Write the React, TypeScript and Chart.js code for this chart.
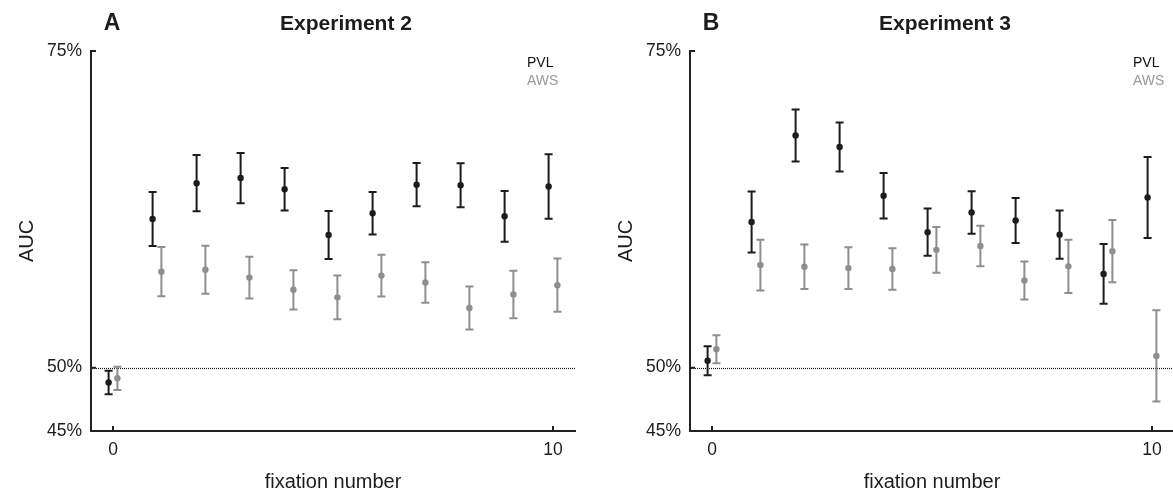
import React, { useEffect, useRef } from "react";
import { Chart, registerables } from "chart.js";

Chart.register(...registerables);

// ---------- data ----------
const fixations = [0, 1, 2, 3, 4, 5, 6, 7, 8, 9, 10];
const seriesLabels = ["PVL", "AWS"];
const yTickValues = [45, 50, 75];
const xTickValues = [0, 10];
const chanceLevel = 50;

// Experiment 2 (panel A)
const exp2PVL = [48.83, 61.74, 64.56, 64.97, 64.09, 60.47, 62.19, 64.45, 64.4, 61.95, 64.3];
const exp2PVLErr = [0.93, 2.13, 2.22, 1.98, 1.68, 1.9, 1.68, 1.7, 1.73, 2.0, 2.55];
const exp2AWS = [49.16, 57.58, 57.73, 57.11, 56.15, 55.55, 57.27, 56.72, 54.71, 55.78, 56.51];
const exp2AWSErr = [0.92, 1.95, 1.9, 1.65, 1.55, 1.73, 1.65, 1.6, 1.7, 1.88, 2.1];

// Experiment 3 (panel B)
const exp3PVL = [50.55, 61.5, 68.33, 67.42, 63.57, 60.7, 62.25, 61.62, 60.5, 57.4, 63.44];
const exp3PVLErr = [1.14, 2.4, 2.05, 1.93, 1.8, 1.87, 1.68, 1.78, 1.9, 2.36, 3.2];
const exp3AWS = [51.45, 58.1, 57.97, 57.86, 57.79, 59.3, 59.6, 56.88, 58.0, 59.2, 50.93];
const exp3AWSErr = [1.1, 2.0, 1.75, 1.65, 1.64, 1.8, 1.6, 1.5, 2.1, 2.45, 3.6];

// ---------- styles ----------
const FONT = "'Liberation Sans', Arial, Helvetica, sans-serif";
const BLACK = "#1c1c1c";
const GREY = "#8e8e8e";
const AXIS = "#222222";
const SERIES_OFFSET = 0.1;

const errorBarPlugin = {
  id: "errorBars",
  beforeDatasetsDraw(chart: any) {
    const { ctx, scales } = chart;
    const x = scales.x;
    const y = scales.y;
    chart.data.datasets.forEach((ds: any) => {
      ds.data.forEach((pt: any, j: number) => {
        const e = ds.errors[j];
        const px = x.getPixelForValue(pt.x);
        const top = y.getPixelForValue(pt.y + e);
        const bot = y.getPixelForValue(pt.y - e);
        ctx.save();
        ctx.strokeStyle = ds.backgroundColor;
        ctx.lineWidth = 2;
        ctx.beginPath();
        ctx.moveTo(px, top);
        ctx.lineTo(px, bot);
        ctx.moveTo(px - 4, top);
        ctx.lineTo(px + 4, top);
        ctx.moveTo(px - 4, bot);
        ctx.lineTo(px + 4, bot);
        ctx.stroke();
        ctx.restore();
      });
    });
  },
};

const chanceLinePlugin = {
  id: "chanceLine",
  beforeDatasetsDraw(chart: any) {
    const { ctx, chartArea, scales } = chart;
    const py = Math.round(scales.y.getPixelForValue(chanceLevel)) + 0.5;
    ctx.save();
    ctx.strokeStyle = "#1a1a1a";
    ctx.lineWidth = 1.2;
    ctx.setLineDash([1, 1]);
    ctx.beginPath();
    ctx.moveTo(chartArea.left + 1, py);
    ctx.lineTo(chartArea.right, py);
    ctx.stroke();
    ctx.restore();
  },
};

const innerTicksPlugin = {
  id: "innerTicks",
  afterDraw(chart: any) {
    const { ctx, chartArea, scales } = chart;
    ctx.save();
    ctx.strokeStyle = AXIS;
    ctx.lineWidth = 2;
    ctx.beginPath();
    scales.y.ticks.forEach((t: any) => {
      const py = scales.y.getPixelForValue(t.value);
      ctx.moveTo(chartArea.left, py);
      ctx.lineTo(chartArea.left + 5, py);
    });
    scales.x.ticks.forEach((t: any) => {
      const px = scales.x.getPixelForValue(t.value);
      ctx.moveTo(px, chartArea.bottom);
      ctx.lineTo(px, chartArea.bottom - 5);
    });
    ctx.stroke();
    ctx.restore();
  },
};

const headerPlugin = {
  id: "header",
  afterDraw(chart: any, _args: any, opts: any) {
    const { ctx, chartArea } = chart;
    ctx.save();
    ctx.fillStyle = BLACK;
    ctx.textBaseline = "alphabetic";
    ctx.textAlign = "center";
    ctx.font = `bold 23px ${FONT}`;
    ctx.fillText(opts.letter, 112, 29.5);
    ctx.font = `bold 21px ${FONT}`;
    ctx.fillText(opts.title, 346, 29.5);
    // legend
    ctx.textAlign = "left";
    ctx.textBaseline = "middle";
    ctx.font = `14px ${FONT}`;
    chart.data.datasets.forEach((ds: any, i: number) => {
      ctx.fillStyle = ds.legendColor;
      ctx.fillText(ds.label, chartArea.right - opts.legendDx, 63 + i * 18);
    });
    ctx.restore();
  },
};

type PanelProps = {
  letter: string;
  title: string;
  pvl: number[];
  pvlErr: number[];
  aws: number[];
  awsErr: number[];
  left: number;
  legendDx: number;
};

function Panel(props: PanelProps) {
  const ref = useRef<HTMLCanvasElement | null>(null);
  useEffect(() => {
    if (!ref.current) return;
    const chart = new Chart(ref.current, {
      type: "scatter",
      data: {
        datasets: [
          {
            label: seriesLabels[0],
            data: fixations.map((f, i) => ({ x: f - SERIES_OFFSET, y: props.pvl[i] })),
            errors: props.pvlErr,
            backgroundColor: BLACK,
            legendColor: "#111",
            borderWidth: 0,
            pointRadius: 3.2,
          } as any,
          {
            label: seriesLabels[1],
            data: fixations.map((f, i) => ({ x: f + SERIES_OFFSET, y: props.aws[i] })),
            errors: props.awsErr,
            backgroundColor: GREY,
            legendColor: "#9a9a9a",
            borderWidth: 0,
            pointRadius: 3.2,
          } as any,
        ],
      },
      options: {
        animation: false,
        responsive: false,
        maintainAspectRatio: false,
        layout: { padding: { top: 51, right: 15, left: 0, bottom: 0 } },
        plugins: {
          legend: { display: false },
          title: { display: false },
          tooltip: { enabled: false },
          header: { letter: props.letter, title: props.title, legendDx: props.legendDx },
        } as any,
        scales: {
          x: {
            type: "linear",
            min: -0.5,
            max: 10.5,
            grid: { display: false, drawTicks: false },
            border: { display: true, color: AXIS, width: 2 },
            ticks: {
              color: BLACK,
              font: { family: FONT, size: 17.5 },
              padding: 9,
              autoSkip: false,
              maxRotation: 0,
              callback: (v: any) => String(v),
            },
            afterBuildTicks: (s: any) => {
              s.ticks = xTickValues.map((v) => ({ value: v }));
            },
            afterFit: (s: any) => {
              s.height = 63;
            },
            title: {
              display: true,
              text: "fixation number",
              color: BLACK,
              font: { family: FONT, size: 20 },
              padding: { top: 0, bottom: 0 },
            },
          },
          y: {
            type: "linear",
            min: 45,
            max: 75,
            grid: { display: false, drawTicks: false },
            border: { display: true, color: AXIS, width: 2 },
            ticks: {
              color: BLACK,
              font: { family: FONT, size: 17.5 },
              padding: 9,
              autoSkip: false,
              callback: (v: any) => `${v}%`,
            },
            afterBuildTicks: (s: any) => {
              s.ticks = yTickValues.map((v) => ({ value: v }));
            },
            afterFit: (s: any) => {
              s.width = 91;
            },
            title: {
              display: true,
              text: "AUC",
              color: BLACK,
              font: { family: FONT, size: 20 },
              padding: { top: 15, bottom: 0 },
            },
          },
        },
      },
      plugins: [chanceLinePlugin, errorBarPlugin, innerTicksPlugin, headerPlugin],
    });
    return () => chart.destroy();
  }, []);
  return (
    <canvas
      ref={ref}
      width={590}
      height={494}
      style={{ position: "absolute", left: props.left, top: 0, width: 590, height: 494, display: "block" }}
    />
  );
}

export default function App() {
  return (
    <div
      style={{
        position: "fixed",
        left: 0,
        top: 0,
        width: 1173,
        height: 494,
        overflow: "hidden",
        background: "#ffffff",
      }}
    >
      <Panel
        letter="A"
        title="Experiment 2"
        pvl={exp2PVL}
        pvlErr={exp2PVLErr}
        aws={exp2AWS}
        awsErr={exp2AWSErr}
        left={0}
        legendDx={48}
      />
      <Panel
        letter="B"
        title="Experiment 3"
        pvl={exp3PVL}
        pvlErr={exp3PVLErr}
        aws={exp3AWS}
        awsErr={exp3AWSErr}
        left={599}
        legendDx={41}
      />
    </div>
  );
}
